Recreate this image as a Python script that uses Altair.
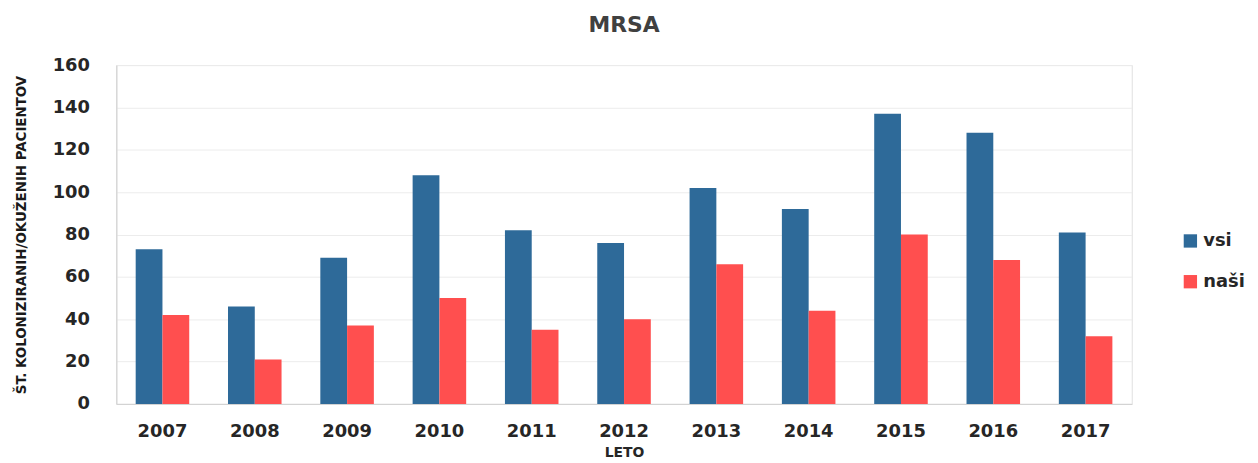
import altair as alt
import pandas as pd

years = ["2007", "2008", "2009", "2010", "2011", "2012", "2013", "2014", "2015", "2016", "2017"]
vsi = [73, 46, 69, 108, 82, 76, 102, 92, 137, 128, 81]
nasi = [42, 21, 37, 50, 35, 40, 66, 44, 80, 68, 32]
series = ["vsi", "naši"]
colors = ["#2E6A99", "#FF4F4F"]

rows = []
for i, y in enumerate(years):
    rows.append({"leto": y, "serija": "vsi", "vrednost": vsi[i]})
    rows.append({"leto": y, "serija": "naši", "vrednost": nasi[i]})
df = pd.DataFrame(rows)

LBL = "DejaVu Sans"

chart = alt.Chart(df).mark_bar().encode(
    x=alt.X("leto:N", sort=years,
            scale=alt.Scale(paddingInner=0.42, paddingOuter=0.21),
            axis=alt.Axis(title="LETO", labelAngle=0, labelFontSize=18, labelFontWeight="bold",
                          labelColor="#262626", labelFont=LBL, labelPadding=19,
                          titleFont=LBL, titleFontSize=14, titleFontWeight="bold",
                          titleColor="#262626", titlePadding=5,
                          ticks=False, domainColor="#d0d0d0", grid=False)),
    xOffset=alt.XOffset("serija:N", sort=series, scale=alt.Scale(domain=series)),
    y=alt.Y("vrednost:Q",
            scale=alt.Scale(domain=[0, 160]),
            axis=alt.Axis(title="ŠT. KOLONIZIRANIH/OKUŽENIH PACIENTOV", values=list(range(0, 161, 20)),
                          labelFontSize=18, labelFontWeight="bold", labelColor="#262626",
                          labelFont=LBL, labelPadding=27,
                          titleFont="DejaVu Sans Condensed", titleFontSize=15, titleFontWeight="bold",
                          titleColor="#1a1a1a", titlePadding=24,
                          ticks=False, domainColor="#d0d0d0", gridColor="#ececec")),
    color=alt.Color("serija:N", sort=series,
                    scale=alt.Scale(domain=series, range=colors),
                    legend=alt.Legend(title=None, symbolType="square", symbolSize=180,
                                      labelFontSize=18, labelFontWeight="bold", labelFont=LBL,
                                      labelColor="#262626", rowPadding=23,
                                      orient="none", legendX=1072, legendY=168,
                                      symbolStrokeWidth=0)),
).properties(
    width=1022, height=341,
    padding={"left": 5, "top": 5, "right": 5, "bottom": 0},
    title=alt.TitleParams("MRSA", fontSize=22, font=LBL, fontWeight="bold",
                          color="#404040", offset=19),
).configure_view(stroke="#e0e0e0")

chart.save("out.html", embed_options={"renderer": "svg", "actions": False})
